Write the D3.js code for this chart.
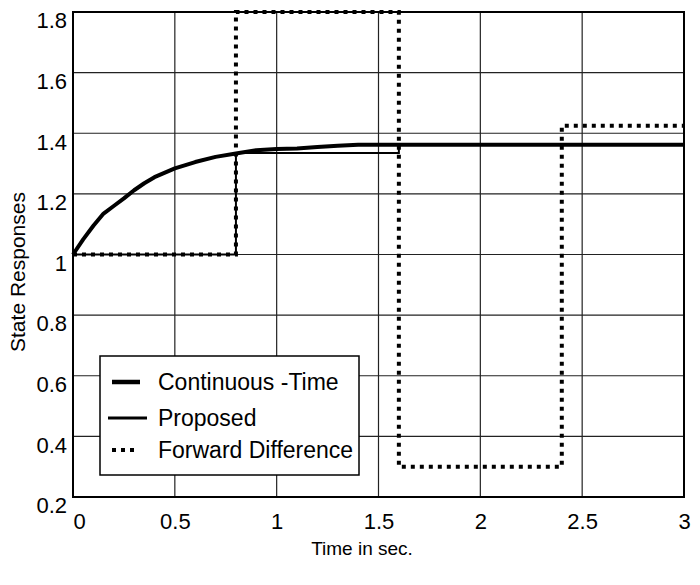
<!DOCTYPE html>
<html>
<head>
<meta charset="utf-8">
<script src="https://cdn.jsdelivr.net/npm/d3@7"></script>
<style>
  body { margin: 0; background: #fff; }
  svg { font-family: "Liberation Sans", Arial, sans-serif; }
</style>
</head>
<body>
<svg width="700" height="585"></svg>
<script>
// continuous-time response
var contT = [0, 0.05, 0.1, 0.15, 0.2, 0.25, 0.3, 0.35, 0.4, 0.5, 0.6, 0.7, 0.8, 0.9, 1.0, 1.1, 1.2, 1.3, 1.4, 1.6, 2.0, 3.0];
var contV = [1.0, 1.05, 1.095, 1.135, 1.16, 1.185, 1.212, 1.235, 1.255, 1.284, 1.305, 1.322, 1.333, 1.344, 1.348, 1.350, 1.355, 1.359, 1.362, 1.362, 1.362, 1.362];

// sampled (zero-order hold) responses, sample period 0.8 s
var sampleT = [0, 0.8, 1.6, 2.4, 3.0];
var proposedV = [1.0, 1.335, 1.362, 1.362, 1.362];
var forwardV = [1.0, 1.8, 0.3, 1.425, 1.425];

var xTicks = [0, 0.5, 1, 1.5, 2, 2.5, 3];
var yTicks = [0.2, 0.4, 0.6, 0.8, 1.0, 1.2, 1.4, 1.6, 1.8];

var legendNames = ['Continuous -Time', 'Proposed', 'Forward Difference'];

var svg = d3.select('svg');
// note: "top" is taken by window.top, so use other names
var pL = 73, pR = 684, pT = 12, pB = 497;

var x = d3.scaleLinear().domain([0, 3]).range([pL, pR]);
var y = d3.scaleLinear().domain([0.2, 1.8]).range([pB, pT]);

// grid
svg.append('g')
    .selectAll('line')
    .data(xTicks.slice(1, -1))
    .enter().append('line')
    .attr('x1', d => x(d)).attr('x2', d => x(d))
    .attr('y1', pT).attr('y2', pB)
    .attr('stroke', '#222').attr('stroke-width', 1.2);

svg.append('g')
    .selectAll('line')
    .data(yTicks.slice(1, -1))
    .enter().append('line')
    .attr('x1', pL).attr('x2', pR)
    .attr('y1', d => y(d)).attr('y2', d => y(d))
    .attr('stroke', '#222').attr('stroke-width', 1.2);

// axes (labels only, frame drawn below)
var xAxis = svg.append('g')
    .attr('transform', `translate(0,${pB})`)
    .call(d3.axisBottom(x).tickValues(xTicks).tickSize(0).tickPadding(16)
        .tickFormat(d3.format('')));
var yAxis = svg.append('g')
    .attr('transform', `translate(${pL},0)`)
    .call(d3.axisLeft(y).tickValues(yTicks).tickSize(0).tickPadding(6)
        .tickFormat(d3.format('')));

[xAxis, yAxis].forEach(function (g) {
    g.select('.domain').remove();
    g.selectAll('text')
        .attr('font-family', '"Liberation Sans", Arial, sans-serif')
        .attr('font-size', 22)
        .attr('fill', '#000');
});
yAxis.selectAll('text').attr('dy', '0.72em');
xAxis.selectAll('text').filter(d => d === 0).attr('text-anchor', 'start');

// data lines
svg.append('clipPath').attr('id', 'clip')
    .append('rect')
    .attr('x', pL - 2).attr('y', pT - 3)
    .attr('width', pR - pL + 4).attr('height', pB - pT + 5);

var smooth = d3.line()
    .x((d, i) => x(contT[i]))
    .y(d => y(d));
var step = d3.line()
    .x((d, i) => x(sampleT[i]))
    .y(d => y(d))
    .curve(d3.curveStepAfter);

var plot = svg.append('g').attr('clip-path', 'url(#clip)');

plot.append('path')
    .attr('d', step(forwardV))
    .attr('fill', 'none').attr('stroke', '#000')
    .attr('stroke-width', 4).attr('stroke-dasharray', '4,5');

plot.append('path')
    .attr('d', step(proposedV))
    .attr('fill', 'none').attr('stroke', '#000')
    .attr('stroke-width', 2);

plot.append('path')
    .attr('d', smooth(contV))
    .attr('fill', 'none').attr('stroke', '#000')
    .attr('stroke-width', 4).attr('stroke-linejoin', 'round');

// frame
svg.append('rect')
    .attr('x', pL).attr('y', pT)
    .attr('width', pR - pL).attr('height', pB - pT)
    .attr('fill', 'none').attr('stroke', '#000').attr('stroke-width', 2);

// legend
var lg = svg.append('g');
lg.append('rect')
    .attr('x', 100).attr('y', 356).attr('width', 259).attr('height', 119)
    .attr('fill', '#fff').attr('stroke', '#000').attr('stroke-width', 1.5);

var legendStyle = [
    { x1: 112, x2: 140, w: 4.5, dash: null },
    { x1: 108, x2: 147, w: 3, dash: null },
    { x1: 112, x2: 136, w: 4, dash: '4,5' }
];
var rowY = [382, 418, 450];

legendNames.forEach(function (name, i) {
    var s = legendStyle[i];
    lg.append('line')
        .attr('x1', s.x1).attr('x2', s.x2)
        .attr('y1', rowY[i]).attr('y2', rowY[i])
        .attr('stroke', '#000').attr('stroke-width', s.w)
        .attr('stroke-dasharray', s.dash);
    lg.append('text')
        .attr('x', 158).attr('y', rowY[i] + 8)
        .attr('font-size', 23)
        .text(name);
});

// axis titles
svg.append('text')
    .attr('x', 362).attr('y', 555)
    .attr('text-anchor', 'middle')
    .attr('font-size', 19)
    .text('Time in sec.');

svg.append('text')
    .attr('transform', 'translate(25,272) rotate(-90)')
    .attr('text-anchor', 'middle')
    .attr('font-size', 21)
    .text('State Responses');
</script>
</body>
</html>
